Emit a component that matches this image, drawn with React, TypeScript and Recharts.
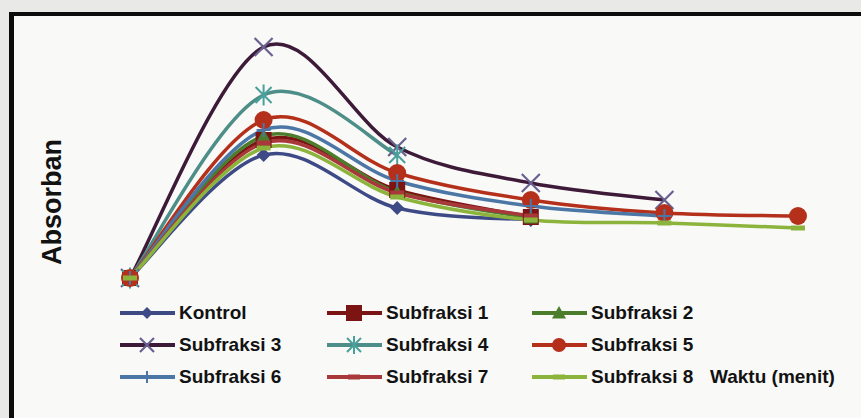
import React from "react";
import { LineChart, Line, XAxis, YAxis } from "recharts";

// waktu (menit) – hidden axis categories
const waktu = ["0", "5", "10", "15", "20", "25"];

const kontrol = [0, 0.246, 0.14, 0.116];
const subfraksi1 = [0, 0.276, 0.176, 0.122];
const subfraksi2 = [0, 0.284, 0.172, 0.12];
const subfraksi3 = [0, 0.462, 0.262, 0.19, 0.156];
const subfraksi4 = [0, 0.366, 0.246];
const subfraksi5 = [0, 0.316, 0.21, 0.156, 0.13, 0.124];
const subfraksi6 = [0, 0.296, 0.194, 0.144, 0.124];
const subfraksi7 = [0, 0.27, 0.17, 0.124];
const subfraksi8 = [0, 0.26, 0.162, 0.116, 0.11, 0.1];

type MarkerKind = "diamond" | "square" | "triangle" | "x" | "star" | "circle" | "plus" | "dash";

type Series = {
  key: string;
  name: string;
  color: string;
  marker: MarkerKind;
  values: number[];
};

const series: Series[] = [
  { key: "kontrol", name: "Kontrol", color: "#3d4a86", marker: "diamond", values: kontrol },
  { key: "s1", name: "Subfraksi 1", color: "#7c1414", marker: "square", values: subfraksi1 },
  { key: "s2", name: "Subfraksi 2", color: "#4c7d2c", marker: "triangle", values: subfraksi2 },
  { key: "s3", name: "Subfraksi 3", color: "#3c1a38", marker: "x", values: subfraksi3 },
  { key: "s4", name: "Subfraksi 4", color: "#4e8e88", marker: "star", values: subfraksi4 },
  { key: "s5", name: "Subfraksi 5", color: "#b4301a", marker: "circle", values: subfraksi5 },
  { key: "s6", name: "Subfraksi 6", color: "#4b76a5", marker: "plus", values: subfraksi6 },
  { key: "s7", name: "Subfraksi 7", color: "#a8383a", marker: "dash", values: subfraksi7 },
  { key: "s8", name: "Subfraksi 8", color: "#8cb43c", marker: "dash", values: subfraksi8 },
];

const data = waktu.map((w, i) => {
  const row: Record<string, string | number | null> = { waktu: w };
  series.forEach((s) => {
    row[s.key] = i < s.values.length ? s.values[i] : null;
  });
  return row;
});

// Excel-style smoothed line (Catmull-Rom through the points)
function smoothCurve(context: any) {
  let pts: [number, number][] = [];
  return {
    areaStart() {},
    areaEnd() {},
    lineStart() {
      pts = [];
    },
    lineEnd() {
      const n = pts.length;
      if (!n) return;
      context.moveTo(pts[0][0], pts[0][1]);
      for (let i = 0; i < n - 1; i++) {
        const p0 = pts[Math.max(i - 1, 0)];
        const p1 = pts[i];
        const p2 = pts[i + 1];
        const p3 = pts[Math.min(i + 2, n - 1)];
        const k = 1 / 6;
        context.bezierCurveTo(
          p1[0] + (p2[0] - p0[0]) * k,
          p1[1] + (p2[1] - p0[1]) * k,
          p2[0] - (p3[0] - p1[0]) * k,
          p2[1] - (p3[1] - p1[1]) * k,
          p2[0],
          p2[1]
        );
      }
    },
    point(x: number, y: number) {
      pts.push([+x, +y]);
    },
  };
}

function Marker({ kind, cx, cy, color, s }: { kind: MarkerKind; cx: number; cy: number; color: string; s: number }) {
  switch (kind) {
    case "diamond":
      return <polygon points={`${cx},${cy - s} ${cx + s},${cy} ${cx},${cy + s} ${cx - s},${cy}`} fill={color} />;
    case "square":
      return <rect x={cx - s} y={cy - s} width={2 * s} height={2 * s} fill={color} />;
    case "triangle":
      return <polygon points={`${cx},${cy - s} ${cx + s},${cy + s * 0.8} ${cx - s},${cy + s * 0.8}`} fill={color} />;
    case "x":
      return (
        <path
          d={`M${cx - s},${cy - s}L${cx + s},${cy + s}M${cx + s},${cy - s}L${cx - s},${cy + s}`}
          stroke="#6a6090"
          strokeWidth={2.2}
        />
      );
    case "star":
      return (
        <path
          d={`M${cx - s},${cy - s}L${cx + s},${cy + s}M${cx + s},${cy - s}L${cx - s},${cy + s}M${cx},${cy - s * 1.3}L${cx},${cy + s * 1.3}`}
          stroke="#4aa09a"
          strokeWidth={2}
        />
      );
    case "circle":
      return <circle cx={cx} cy={cy} r={s} fill={color} />;
    case "plus":
      return (
        <path
          d={`M${cx - s},${cy}L${cx + s},${cy}M${cx},${cy - s}L${cx},${cy + s}`}
          stroke={color}
          strokeWidth={2}
        />
      );
    default:
      return <rect x={cx - s} y={cy - 2.5} width={2 * s} height={5} fill={color} />;
  }
}

const markerSize: Record<MarkerKind, number> = {
  diamond: 7,
  square: 8,
  triangle: 7,
  x: 9,
  star: 8,
  circle: 9,
  plus: 7,
  dash: 7,
};

const FONT = "'Liberation Sans', Arial, sans-serif";

function LegendItem({ s, x, y }: { s: Series; x: number; y: number }) {
  const legendSize: Record<MarkerKind, number> = {
    diamond: 6,
    square: 8,
    triangle: 7,
    x: 7,
    star: 7,
    circle: 7,
    plus: 6,
    dash: 6,
  };
  return (
    <div style={{ position: "absolute", left: x, top: y - 14, height: 28, display: "flex", alignItems: "center" }}>
      <svg width={56} height={28}>
        <line x1={0} y1={14} x2={55} y2={14} stroke={s.color} strokeWidth={4} />
        <Marker kind={s.marker} cx={27} cy={14} color={s.color} s={legendSize[s.marker]} />
      </svg>
      <span style={{ marginLeft: 3, fontFamily: FONT, fontWeight: 700, fontSize: 19, color: "#121212" }}>
        {s.name}
      </span>
    </div>
  );
}

export default function App() {
  const cols = [120, 327, 532];
  const rows = [313, 345, 377];
  return (
    <div style={{ position: "absolute", left: 0, top: 0, width: 861, height: 418, background: "#e9e9e7", overflow: "hidden" }}>
      <div
        style={{
          position: "absolute",
          left: 9,
          top: 12,
          width: 852,
          height: 406,
          background: "#f9f9f7",
          borderTop: "4px solid #0c0c0c",
          borderLeft: "5px solid #0c0c0c",
          boxSizing: "border-box",
        }}
      />
      <div style={{ position: "absolute", left: 0, top: 0 }}>
        <LineChart width={861} height={418} data={data} margin={{ top: 28, right: 63, bottom: 140, left: 130 }}>
          <XAxis dataKey="waktu" hide />
          <YAxis type="number" domain={[0, 0.5]} hide />
          {series.map((s) => (
            <Line
              key={s.key}
              dataKey={s.key}
              name={s.name}
              type={smoothCurve as any}
              stroke={s.color}
              strokeWidth={3.5}
              isAnimationActive={false}
              activeDot={false}
              dot={(p: any) => {
                if (p.cx == null || p.cy == null || p.value == null) return <g key={`${s.key}-${p.index}`} />;
                return (
                  <g key={`${s.key}-${p.index}`}>
                    <Marker kind={s.marker} cx={p.cx} cy={p.cy} color={s.color} s={markerSize[s.marker]} />
                  </g>
                );
              }}
            />
          ))}
        </LineChart>
      </div>
      {series.map((s, i) => (
        <LegendItem key={s.key} s={s} x={cols[i % 3]} y={rows[Math.floor(i / 3)]} />
      ))}
      <div
        style={{
          position: "absolute",
          left: 710,
          top: 377 - 12,
          fontFamily: FONT,
          fontWeight: 700,
          fontSize: 19,
          color: "#121212",
          lineHeight: "24px",
        }}
      >
        Waktu (menit)
      </div>
      <div
        style={{
          position: "absolute",
          left: 52,
          top: 202,
          transform: "translate(-50%, -50%) rotate(-90deg)",
          fontFamily: FONT,
          fontWeight: 700,
          fontSize: 27,
          color: "#121212",
          whiteSpace: "nowrap",
        }}
      >
        Absorban
      </div>
    </div>
  );
}
